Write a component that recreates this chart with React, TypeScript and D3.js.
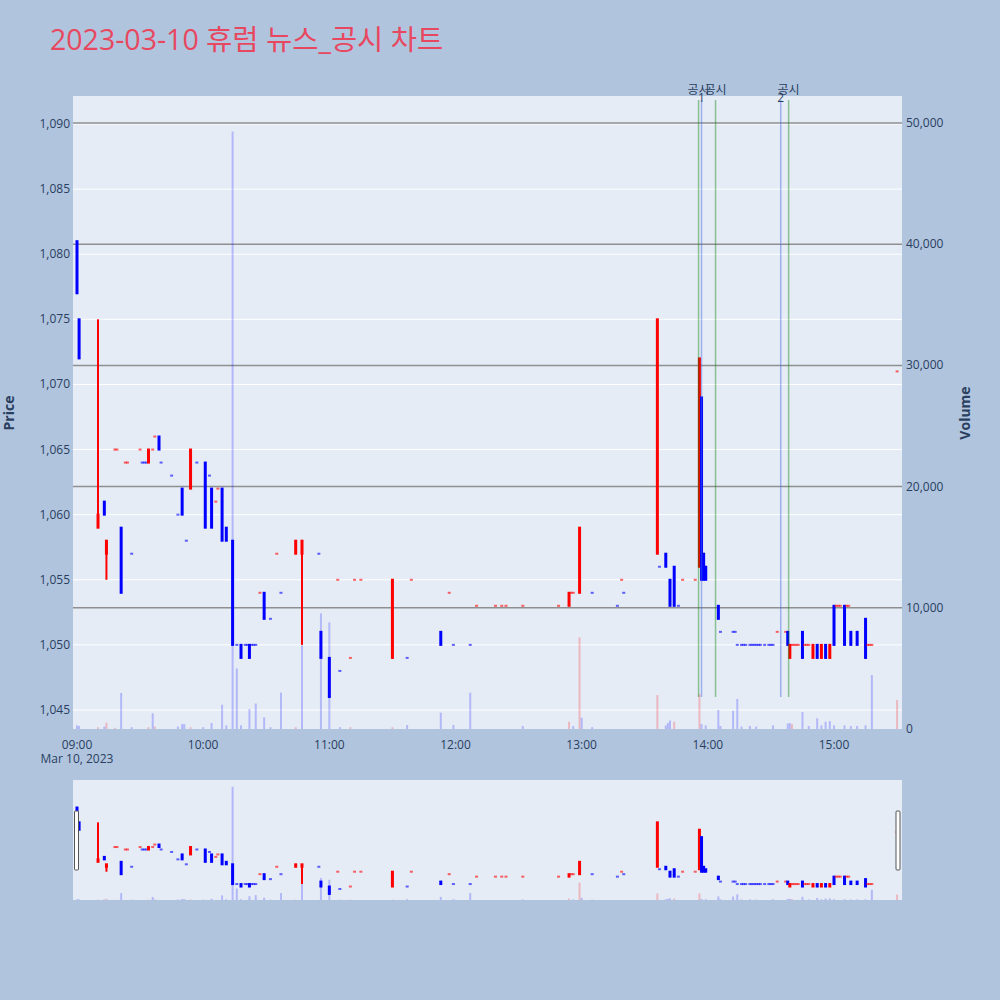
import React, { useMemo } from "react";
import * as d3 from "d3";

const W = 1000;
const H = 1000;
const TITLE = "2023-03-10 휴럼 뉴스_공시 차트";
const DATE_LABEL = "Mar 10, 2023";

const priceTicks = [1045, 1050, 1055, 1060, 1065, 1070, 1075, 1080, 1085, 1090];
const volumeTicks = [0, 10000, 20000, 30000, 40000, 50000];
const timeTicks = ["09:00", "10:00", "11:00", "12:00", "13:00", "14:00", "15:00"];
const priceDomain = [1043.54, 1092.15];
const volumeDomain = [0, 52228];
const timeDomain = ["08:58:06", "15:32:20"];

// [time, open, high, low, close, direction (1 = up/red, -1 = down/blue)]
const candleRows: [string, number, number, number, number, number][] = [
  ["09:00", 1081, 1081, 1077, 1077, -1],
  ["09:01", 1075, 1075, 1072, 1072, -1],
  ["09:10", 1059, 1075, 1059, 1060, 1],
  ["09:13", 1061, 1061, 1060, 1060, -1],
  ["09:14", 1057, 1058, 1055, 1058, 1],
  ["09:18", 1065, 1065, 1065, 1065, 1],
  ["09:19", 1065, 1065, 1065, 1065, 1],
  ["09:21", 1059, 1059, 1054, 1054, -1],
  ["09:23", 1064, 1064, 1064, 1064, 1],
  ["09:24", 1064, 1064, 1064, 1064, 1],
  ["09:26", 1057, 1057, 1057, 1057, -1],
  ["09:30", 1065, 1065, 1065, 1065, 1],
  ["09:31", 1064, 1064, 1064, 1064, -1],
  ["09:32", 1064, 1064, 1064, 1064, -1],
  ["09:33", 1064, 1064, 1064, 1064, -1],
  ["09:34", 1064, 1065, 1064, 1065, 1],
  ["09:36", 1065, 1065, 1065, 1065, 1],
  ["09:37", 1066, 1066, 1066, 1066, 1],
  ["09:39", 1066, 1066, 1065, 1065, -1],
  ["09:40", 1064, 1064, 1064, 1064, -1],
  ["09:45", 1063, 1063, 1063, 1063, -1],
  ["09:48", 1060, 1060, 1060, 1060, -1],
  ["09:50", 1062, 1062, 1060, 1060, -1],
  ["09:52", 1058, 1058, 1058, 1058, -1],
  ["09:54", 1062, 1065, 1062, 1065, 1],
  ["09:57", 1064, 1064, 1064, 1064, -1],
  ["10:01", 1064, 1064, 1059, 1059, -1],
  ["10:03", 1063, 1063, 1063, 1063, -1],
  ["10:04", 1062, 1062, 1059, 1059, -1],
  ["10:06", 1061, 1061, 1061, 1061, 1],
  ["10:07", 1062, 1062, 1062, 1062, 1],
  ["10:09", 1062, 1062, 1058, 1058, -1],
  ["10:11", 1059, 1059, 1058, 1058, -1],
  ["10:14", 1058, 1058, 1050, 1050, -1],
  ["10:16", 1050, 1050, 1050, 1050, -1],
  ["10:18", 1050, 1050, 1049, 1049, -1],
  ["10:20", 1050, 1050, 1050, 1050, -1],
  ["10:21", 1050, 1050, 1050, 1050, -1],
  ["10:22", 1050, 1050, 1049, 1049, -1],
  ["10:23", 1050, 1050, 1050, 1050, -1],
  ["10:24", 1050, 1050, 1050, 1050, -1],
  ["10:25", 1050, 1050, 1050, 1050, -1],
  ["10:27", 1054, 1054, 1054, 1054, 1],
  ["10:29", 1054, 1054, 1052, 1052, -1],
  ["10:32", 1052, 1052, 1052, 1052, -1],
  ["10:35", 1057, 1057, 1057, 1057, 1],
  ["10:37", 1054, 1054, 1054, 1054, -1],
  ["10:44", 1057, 1058, 1057, 1058, 1],
  ["10:47", 1057, 1058, 1050, 1058, 1],
  ["10:55", 1057, 1057, 1057, 1057, -1],
  ["10:56", 1051, 1051, 1049, 1049, -1],
  ["11:00", 1049, 1049, 1046, 1046, -1],
  ["11:04", 1055, 1055, 1055, 1055, 1],
  ["11:05", 1048, 1048, 1048, 1048, -1],
  ["11:10", 1049, 1049, 1049, 1049, 1],
  ["11:12", 1055, 1055, 1055, 1055, 1],
  ["11:15", 1055, 1055, 1055, 1055, 1],
  ["11:30", 1049, 1055, 1049, 1055, 1],
  ["11:37", 1049, 1049, 1049, 1049, -1],
  ["11:39", 1055, 1055, 1055, 1055, 1],
  ["11:53", 1051, 1051, 1050, 1050, -1],
  ["11:57", 1054, 1054, 1054, 1054, 1],
  ["11:59", 1050, 1050, 1050, 1050, -1],
  ["12:07", 1050, 1050, 1050, 1050, -1],
  ["12:10", 1053, 1053, 1053, 1053, 1],
  ["12:19", 1053, 1053, 1053, 1053, 1],
  ["12:22", 1053, 1053, 1053, 1053, 1],
  ["12:24", 1053, 1053, 1053, 1053, 1],
  ["12:32", 1053, 1053, 1053, 1053, 1],
  ["12:49", 1053, 1053, 1053, 1053, 1],
  ["12:54", 1053, 1054, 1053, 1054, 1],
  ["12:55", 1054, 1054, 1054, 1054, 1],
  ["12:56", 1054, 1054, 1054, 1054, 1],
  ["12:59", 1054, 1059, 1054, 1059, 1],
  ["13:05", 1054, 1054, 1054, 1054, -1],
  ["13:17", 1053, 1053, 1053, 1053, -1],
  ["13:19", 1055, 1055, 1055, 1055, 1],
  ["13:20", 1054, 1054, 1054, 1054, -1],
  ["13:36", 1057, 1075, 1057, 1075, 1],
  ["13:37", 1056, 1056, 1056, 1056, -1],
  ["13:40", 1057, 1057, 1056, 1056, -1],
  ["13:42", 1055, 1055, 1053, 1053, -1],
  ["13:44", 1056, 1056, 1053, 1053, -1],
  ["13:46", 1053, 1053, 1053, 1053, -1],
  ["13:48", 1055, 1055, 1055, 1055, 1],
  ["13:54", 1055, 1055, 1055, 1055, 1],
  ["13:56", 1056, 1072, 1056, 1072, 1],
  ["13:57", 1069, 1069, 1055, 1055, -1],
  ["13:58", 1057, 1057, 1055, 1055, -1],
  ["13:59", 1056, 1056, 1055, 1055, -1],
  ["14:05", 1053, 1053, 1052, 1052, -1],
  ["14:06", 1051, 1051, 1051, 1051, -1],
  ["14:12", 1051, 1051, 1051, 1051, -1],
  ["14:13", 1051, 1051, 1051, 1051, -1],
  ["14:14", 1050, 1050, 1050, 1050, -1],
  ["14:16", 1050, 1050, 1050, 1050, -1],
  ["14:17", 1050, 1050, 1050, 1050, -1],
  ["14:18", 1050, 1050, 1050, 1050, -1],
  ["14:20", 1050, 1050, 1050, 1050, -1],
  ["14:21", 1050, 1050, 1050, 1050, -1],
  ["14:22", 1050, 1050, 1050, 1050, -1],
  ["14:23", 1050, 1050, 1050, 1050, -1],
  ["14:24", 1050, 1050, 1050, 1050, -1],
  ["14:25", 1050, 1050, 1050, 1050, -1],
  ["14:27", 1050, 1050, 1050, 1050, -1],
  ["14:29", 1050, 1050, 1050, 1050, -1],
  ["14:30", 1050, 1050, 1050, 1050, -1],
  ["14:31", 1050, 1050, 1050, 1050, -1],
  ["14:33", 1051, 1051, 1051, 1051, 1],
  ["14:37", 1051, 1051, 1051, 1051, 1],
  ["14:38", 1051, 1051, 1050, 1050, -1],
  ["14:39", 1049, 1050, 1049, 1050, 1],
  ["14:40", 1050, 1050, 1050, 1050, 1],
  ["14:41", 1050, 1050, 1050, 1050, 1],
  ["14:42", 1050, 1050, 1050, 1050, 1],
  ["14:43", 1050, 1050, 1050, 1050, 1],
  ["14:45", 1051, 1051, 1049, 1049, -1],
  ["14:46", 1050, 1050, 1050, 1050, 1],
  ["14:47", 1050, 1050, 1050, 1050, 1],
  ["14:48", 1050, 1050, 1050, 1050, 1],
  ["14:50", 1049, 1050, 1049, 1050, 1],
  ["14:52", 1050, 1050, 1049, 1049, -1],
  ["14:54", 1049, 1050, 1049, 1050, 1],
  ["14:56", 1050, 1050, 1049, 1049, -1],
  ["14:58", 1049, 1050, 1049, 1050, 1],
  ["15:00", 1053, 1053, 1050, 1050, -1],
  ["15:01", 1053, 1053, 1053, 1053, 1],
  ["15:02", 1053, 1053, 1053, 1053, 1],
  ["15:03", 1053, 1053, 1053, 1053, 1],
  ["15:05", 1053, 1053, 1050, 1050, -1],
  ["15:06", 1053, 1053, 1053, 1053, 1],
  ["15:07", 1053, 1053, 1053, 1053, 1],
  ["15:08", 1051, 1051, 1050, 1050, -1],
  ["15:11", 1051, 1051, 1050, 1050, -1],
  ["15:15", 1052, 1052, 1049, 1049, -1],
  ["15:16", 1050, 1050, 1050, 1050, 1],
  ["15:17", 1050, 1050, 1050, 1050, 1],
  ["15:18", 1050, 1050, 1050, 1050, 1],
  ["15:30", 1071, 1071, 1071, 1071, 1],
];

// [time, volume, direction]
const volumeRows: [string, number, number][] = [
  ["09:00", 300, -1], ["09:01", 250, -1], ["09:10", 150, 1], ["09:13", 200, -1],
  ["09:14", 520, 1], ["09:18", 100, 1], ["09:21", 2970, -1], ["09:26", 150, -1],
  ["09:34", 150, 1], ["09:36", 1300, -1], ["09:37", 200, 1], ["09:48", 200, -1],
  ["09:50", 400, -1], ["09:51", 400, -1], ["09:54", 150, 1], ["10:00", 150, -1],
  ["10:04", 500, -1], ["10:09", 2000, -1], ["10:11", 300, -1], ["10:14", 49300, -1],
  ["10:16", 5000, -1], ["10:18", 300, -1], ["10:22", 1650, -1], ["10:25", 2100, -1],
  ["10:29", 960, -1], ["10:32", 150, -1], ["10:37", 3000, -1], ["10:44", 150, 1],
  ["10:47", 6900, -1], ["10:56", 9540, -1], ["11:00", 8800, -1], ["11:05", 150, -1],
  ["11:10", 150, 1], ["11:30", 150, 1], ["11:37", 330, -1], ["11:53", 1350, -1],
  ["11:59", 330, -1], ["12:07", 3000, -1], ["12:32", 250, -1], ["12:54", 600, 1],
  ["12:56", 250, -1], ["12:59", 7560, 1], ["13:00", 930, -1], ["13:05", 150, -1],
  ["13:36", 2800, 1], ["13:40", 300, -1], ["13:41", 500, -1], ["13:42", 700, -1],
  ["13:44", 600, 1], ["13:56", 2900, 1], ["13:57", 400, -1], ["13:59", 300, -1],
  ["14:05", 1570, -1], ["14:06", 250, -1], ["14:12", 1500, -1], ["14:14", 2480, -1],
  ["14:16", 200, -1], ["14:20", 250, -1], ["14:23", 200, -1], ["14:31", 300, -1],
  ["14:38", 450, -1], ["14:39", 500, -1], ["14:40", 400, 1], ["14:45", 1400, -1],
  ["14:48", 250, -1], ["14:52", 880, -1], ["14:54", 300, -1], ["14:56", 600, -1],
  ["14:58", 650, -1], ["15:00", 300, -1], ["15:05", 300, -1], ["15:08", 250, -1],
  ["15:11", 250, -1], ["15:15", 300, -1], ["15:18", 4450, -1], ["15:30", 2400, 1],
];

const disclosureTimes = ["13:55:35", "14:03:40", "14:38:25"];
const disclosureLabel = "공시";
const newsTimes = ["13:57:00", "14:34:40"];
const newsLabels = ["1", "2"];

const FONT = "'Open Sans', 'Noto Sans CJK KR', verdana, arial, sans-serif";
const TICK_COLOR = "#2a3f5f";
const UP = "#ff0000";
const DOWN = "#0000ff";

const parseT = (s: string) => {
  const p = s.split(":").map(Number);
  return new Date(2023, 2, 10, p[0], p[1], p[2] || 0);
};

const PLOT = { left: 73, right: 902, top: 96, bottom: 729 };
const SLIDER = { top: 780, bottom: 900 };

function Candles({ x, y, clip }: any) {
  return (
    <g clipPath={clip}>
      {candleRows.map(([t, o, h, l, c, d], i) => {
        const cx = x(parseT(t));
        const col = d > 0 ? UP : DOWN;
        const yo = y(o), yc = y(c), yh = y(h), yl = y(l);
        const top = Math.min(yo, yc);
        const bot = Math.max(yo, yc);
        const doji = o === c;
        return (
          <g key={i} opacity={doji ? 0.6 : 1}>
            {(yh < top - 0.5 || yl > bot + 0.5) && (
              <line x1={cx} x2={cx} y1={yh} y2={yl} stroke={col} strokeWidth={2} />
            )}
            <rect x={cx - 1.5} width={3} y={top - 1} height={bot - top + 2} fill={col} />
          </g>
        );
      })}
    </g>
  );
}

function Volumes({ x, y, clip }: any) {
  return (
    <g clipPath={clip}>
      {volumeRows.map(([t, v, d], i) => {
        const cx = x(parseT(t));
        return (
          <rect
            key={i}
            x={cx - 1}
            width={2}
            y={y(v)}
            height={y(0) - y(v)}
            fill={d > 0 ? "rgba(255,0,0,0.22)" : "rgba(0,0,255,0.22)"}
          />
        );
      })}
    </g>
  );
}

export default function App() {
  const s = useMemo(() => {
    const x = d3
      .scaleTime()
      .domain(timeDomain.map(parseT))
      .range([PLOT.left, PLOT.right]);
    const yP = d3.scaleLinear().domain(priceDomain).range([PLOT.bottom, PLOT.top]);
    const yV = d3.scaleLinear().domain(volumeDomain).range([PLOT.bottom, PLOT.top]);
    const sP = d3.scaleLinear().domain(priceDomain).range([SLIDER.bottom, SLIDER.top]);
    const sV = d3.scaleLinear().domain(volumeDomain).range([SLIDER.bottom, SLIDER.top]);
    return { x, yP, yV, sP, sV };
  }, []);
  const { x, yP, yV, sP, sV } = s;
  const fmt = d3.format(",");
  const pw = PLOT.right - PLOT.left;

  return (
    <svg
      width={W}
      height={H}
      style={{ position: "absolute", left: 0, top: 0, fontFamily: FONT }}
    >
      <defs>
        <clipPath id="plotClip">
          <rect x={PLOT.left} y={PLOT.top} width={pw} height={PLOT.bottom - PLOT.top} />
        </clipPath>
        <clipPath id="sliderClip">
          <rect x={PLOT.left} y={SLIDER.top} width={pw} height={SLIDER.bottom - SLIDER.top} />
        </clipPath>
      </defs>
      <rect x={0} y={0} width={W} height={H} fill="#b0c4de" />
      <text x={50} y={50} fontSize={28.5} fill="#e8485f" style={{ fontFamily: FONT }}>
        {TITLE}
      </text>

      {/* main plot */}
      <rect x={PLOT.left} y={PLOT.top} width={pw} height={PLOT.bottom - PLOT.top} fill="#e5ecf6" />
      {priceTicks.map((p) => (
        <line key={"pg" + p} x1={PLOT.left} x2={PLOT.right} y1={yP(p)} y2={yP(p)} stroke="#fff" strokeWidth={1} />
      ))}
      {volumeTicks.filter((v) => v > 0).map((v) => (
        <line key={"vg" + v} x1={PLOT.left} x2={PLOT.right} y1={yV(v)} y2={yV(v)} stroke="#8f8f8f" strokeWidth={1.5} />
      ))}
      <Volumes x={x} y={yV} clip="url(#plotClip)" />
      <Candles x={x} y={yP} clip="url(#plotClip)" />

      {disclosureTimes.map((t) => (
        <line key={"dl" + t} x1={x(parseT(t))} x2={x(parseT(t))} y1={100} y2={697} stroke="rgba(0,128,0,0.4)" strokeWidth={1.5} />
      ))}
      {newsTimes.map((t) => (
        <line key={"nl" + t} x1={x(parseT(t))} x2={x(parseT(t))} y1={100} y2={697} stroke="rgba(65,105,225,0.45)" strokeWidth={1.5} />
      ))}
      {disclosureTimes.map((t) => (
        <text key={"dt" + t} x={x(parseT(t))} y={94} fontSize={12} fill={TICK_COLOR} textAnchor="middle">
          {disclosureLabel}
        </text>
      ))}
      {newsTimes.map((t, i) => (
        <text key={"nt" + t} x={x(parseT(t))} y={102} fontSize={12} fill={TICK_COLOR} textAnchor="middle">
          {newsLabels[i]}
        </text>
      ))}

      {/* axes labels */}
      {priceTicks.map((p) => (
        <text key={"pl" + p} x={70} y={yP(p) + 4} fontSize={12} fill={TICK_COLOR} textAnchor="end">
          {fmt(p)}
        </text>
      ))}
      {volumeTicks.map((v) => (
        <text key={"vl" + v} x={906} y={yV(v) + 4} fontSize={12} fill={TICK_COLOR} textAnchor="start">
          {fmt(v)}
        </text>
      ))}
      {timeTicks.map((t) => (
        <text key={"tl" + t} x={x(parseT(t))} y={749} fontSize={12} fill={TICK_COLOR} textAnchor="middle">
          {t}
        </text>
      ))}
      <text x={x(parseT(timeTicks[0]))} y={763} fontSize={12} fill={TICK_COLOR} textAnchor="middle">
        {DATE_LABEL}
      </text>
      <text transform="translate(14,413) rotate(-90)" fontSize={14} fill={TICK_COLOR} textAnchor="middle" fontWeight="bold">
        Price
      </text>
      <text transform="translate(970,413) rotate(-90)" fontSize={14} fill={TICK_COLOR} textAnchor="middle" fontWeight="bold">
        Volume
      </text>

      {/* range slider */}
      <rect x={PLOT.left} y={SLIDER.top} width={pw} height={SLIDER.bottom - SLIDER.top} fill="#e5ecf6" />
      <Volumes x={x} y={sV} clip="url(#sliderClip)" />
      <Candles x={x} y={sP} clip="url(#sliderClip)" />
      <rect x={74.5} y={811} width={4} height={59} fill="#fff" stroke="#555" strokeWidth={1} rx={1} />
      <rect x={896} y={811} width={4} height={59} fill="#fff" stroke="#555" strokeWidth={1} rx={1} />
    </svg>
  );
}
